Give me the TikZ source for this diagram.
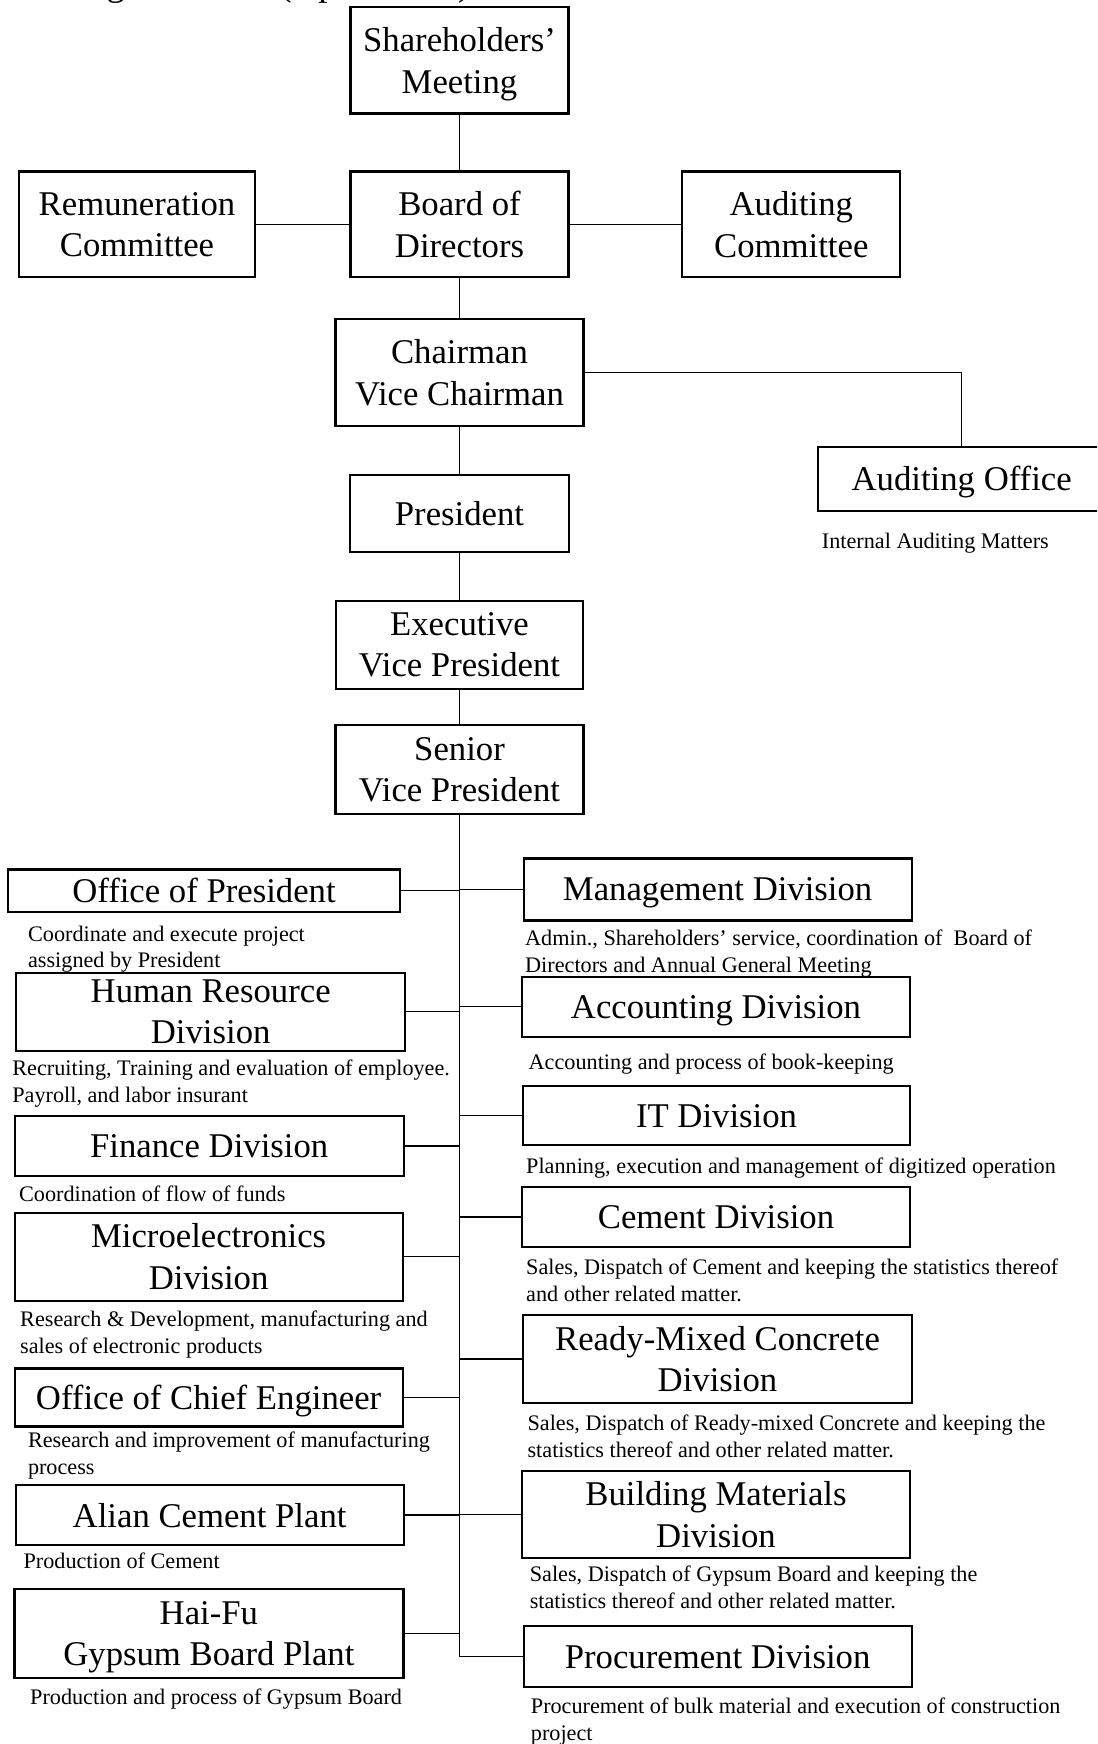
\documentclass[tikz,border=0pt]{standalone}
\usepackage{fontspec}
\setmainfont{Liberation Serif}
\newcommand\unitfont{\fontsize{34.7}{41.5}\selectfont}
\newcommand\notefont{\fontsize{22.2}{26.7}\selectfont}
\tikzset{
  unit/.style={draw, line width=2.2pt, inner sep=0pt, align=center, text depth=0pt, font=\unitfont},
  note/.style={inner sep=0pt, anchor=north west, align=left, font=\notefont},
  link/.style={line width=1.3pt},
}
\begin{document}
\begin{tikzpicture}[x=1pt, y=-1pt]
\useasboundingbox (0,0) rectangle (1097,1744);
\clip (0,0) rectangle (1097,1744);

% heading line (mostly above the page edge)
\node[anchor=base west, inner sep=0pt, font=\fontsize{37}{40}\selectfont] (head) at (88,-4) {ng Structure (Up to 2022)};

% governance
\node[unit, minimum width=218pt, minimum height=106.5pt] (sh)    at (459.5,60.3)  {Shareholders’\\Meeting};
\node[unit, minimum width=236pt, minimum height=105.7pt] (rem)   at (137,224.3)   {Remuneration\\Committee};
\node[unit, minimum width=218pt, minimum height=105.7pt] (bod)   at (459.5,224.3) {Board of\\Directors};
\node[unit, minimum width=218pt, minimum height=105.7pt] (audc)  at (791.3,224.3) {Auditing\\Committee};
\node[unit, minimum width=248pt, minimum height=106.7pt] (chair) at (459.5,372.3) {Chairman\\Vice Chairman};
\node[unit, minimum width=219pt, minimum height=77pt]    (pres)  at (459.5,513.5) {President};
\node[unit, minimum width=247pt, minimum height=88pt]    (evp)   at (459.5,644.7) {Executive\\Vice President};
\node[unit, minimum width=248pt, minimum height=89pt]    (svp)   at (459.5,769.5) {Senior\\Vice President};
\node[unit, minimum width=287pt, minimum height=64pt]    (audo)  at (961.7,478.7) {Auditing Office};
\node[note] (audon) at (821.7,533.3) {Internal Auditing Matters};

% left column units
\node[unit, minimum width=392pt, minimum height=42.2pt] (op)  at (204,890.6)   {Office of President};
\node[unit, minimum width=389pt, minimum height=78pt]   (hr)  at (210.7,1011.7) {Human Resource\\Division};
\node[unit, minimum width=389pt, minimum height=60pt]   (fin) at (209.2,1146)  {Finance Division};
\node[unit, minimum width=388pt, minimum height=88pt]   (mic) at (208.6,1256.6) {Microelectronics\\Division};
\node[unit, minimum width=388pt, minimum height=58pt]   (ce)  at (208.6,1397.4) {Office of Chief Engineer};
\node[unit, minimum width=388pt, minimum height=60pt]   (al)  at (209.6,1515)  {Alian Cement Plant};
\node[unit, minimum width=389pt, minimum height=88.4pt] (hf)  at (208.9,1633.5) {Hai-Fu\\Gypsum Board Plant};

% right column units
\node[unit, minimum width=388pt, minimum height=62pt]   (mg)  at (717.6,889.5)  {Management Division};
\node[unit, minimum width=388pt, minimum height=60pt]   (ac)  at (716,1006.7)   {Accounting Division};
\node[unit, minimum width=387pt, minimum height=59pt]   (it)  at (716.5,1115.5) {IT Division};
\node[unit, minimum width=388pt, minimum height=60pt]   (cm)  at (716,1217)     {Cement Division};
\node[unit, minimum width=389pt, minimum height=88pt]   (rmc) at (717.5,1359)   {Ready-Mixed Concrete\\Division};
\node[unit, minimum width=388pt, minimum height=87pt]   (bm)  at (716,1514.5)   {Building Materials\\Division};
\node[unit, minimum width=388pt, minimum height=61.3pt] (pr)  at (717.6,1656.7) {Procurement Division};

% duties under each unit
\node[note] (opn)  at (27.9,925.5)  {Coordinate and execute project\\assigned by President};
\node[note] (hrn)  at (12.2,1059.5) {Recruiting, Training and evaluation of employee.\\Payroll, and labor insurant};
\node[note] (finn) at (18.9,1185.8) {Coordination of flow of funds};
\node[note] (micn) at (20,1311.1)   {Research \& Development, manufacturing and\\sales of electronic products};
\node[note] (cen)  at (27.8,1431.9) {Research and improvement of manufacturing\\process};
\node[note] (aln)  at (23.4,1552.5) {Production of Cement};
\node[note] (hfn)  at (30,1688.5)   {Production and process of Gypsum Board};
\node[note] (mgn)  at (525,929.5)   {Admin., Shareholders’ service, coordination of~ Board of\\Directors and Annual General Meeting};
\node[note] (acn)  at (528.5,1054)  {Accounting and process of book-keeping};
\node[note] (itn)  at (526,1157.5)  {Planning, execution and management of digitized operation};
\node[note] (cmn)  at (526,1258.8)  {Sales, Dispatch of Cement and keeping the statistics thereof\\and other related matter.};
\node[note] (rmcn) at (527.4,1414.5) {Sales, Dispatch of Ready-mixed Concrete and keeping the\\statistics thereof and other related matter.};
\node[note] (bmn)  at (529.6,1566)  {Sales, Dispatch of Gypsum Board and keeping the\\statistics thereof and other related matter.};
\node[note] (prn)  at (530.7,1697.5) {Procurement of bulk material and execution of construction\\project};

% reporting lines
\draw[link] (sh.south) -- (bod.north);
\draw[link] (rem.east) -- (bod.west);
\draw[link] (bod.east) -- (audc.west);
\draw[link] (bod.south) -- (chair.north);
\draw[link] (chair.south) -- (pres.north);
\draw[link] (pres.south) -- (evp.north);
\draw[link] (evp.south) -- (svp.north);
\draw[link] (chair.east) -| (audo.north);

% trunk below the Senior Vice President
\draw[link] (svp.south) |- (pr.west);
\foreach \u in {op,hr,fin,mic,ce,al,hf}
  \draw[link] (\u.east) -- (\u.east -| svp.south);
\foreach \u in {mg,ac,it,cm,rmc,bm}
  \draw[link] (svp.south |- \u.west) -- (\u.west);
\end{tikzpicture}
\end{document}
